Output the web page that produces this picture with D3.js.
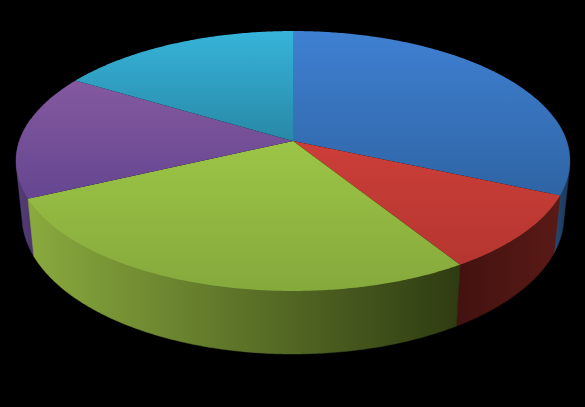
<!DOCTYPE html>
<html>
<head>
<meta charset="utf-8">
<script src="https://cdn.jsdelivr.net/npm/d3@7"></script>
<style>
  html, body { margin: 0; padding: 0; background: #000; }
  svg { display: block; }
</style>
</head>
<body>
<div id="chart"></div>
<script>
// ========== DATA ==========
const categories = ["Blue", "Red", "Green", "Purple", "Teal"];
const values = [31.6, 9.5, 26.9, 15.6, 16.4];

// top face gradient, far edge to near edge
const topColors = [
  ["#3f80d2", "#2e64a4"],
  ["#cc3e39", "#b5362f"],
  ["#9cc546", "#86a93c"],
  ["#83599f", "#654690"],
  ["#36b4da", "#2888a6"]
];
// side wall gradient, left to right
const sideColors = [
  ["#27507f", "#1a3554"],
  ["#421210", "#5a1a16"],
  ["#8aaa3e", "#2e3b11"],
  ["#553c78", "#4a3469"],
  ["#000000", "#000000"]
];

// ========== GEOMETRY ==========
const width = 585, height = 407;
const apex = { x: 293, y: 141 };
const tilt = 0.1538;      // perspective of the pie plane
const scaleU = d3.scaleLinear().domain([-1, 1]).range([apex.x - 273.7, apex.x + 273.7]);
const scaleV = d3.scaleLinear().domain([-1, 1]).range([apex.y + 126.9, apex.y - 126.9]);
const bottomX = d3.scaleLinear().domain([0, width]).range([apex.x - 0.978 * apex.x, apex.x + 0.978 * (width - apex.x)]);
const bottomY = d3.scaleLinear().domain([apex.y, apex.y + 150]).range([195, 354]);

// project an angle (clockwise from top) and radius on to the tilted plane
function project(angle, r = 1) {
  const u = r * Math.sin(angle), v = r * Math.cos(angle);
  const w = 1 + tilt * v;
  return [scaleU(u / w), scaleV(v / w)];
}

function rimPoints(a0, a1) {
  const n = Math.max(2, Math.ceil((a1 - a0) / 0.01));
  return d3.range(n + 1).map(i => project(a0 + (a1 - a0) * i / n));
}

// ========== DRAWING ==========
const svg = d3.select("#chart").append("svg")
  .attr("width", width)
  .attr("height", height)
  .attr("viewBox", `0 0 ${width} ${height}`)
  .style("background", "#000");

const pie = d3.pie().sort(null)(values);
const line = d3.line();
const defs = svg.append("defs");

function addGradient(id, colors, horizontal) {
  const g = defs.append("linearGradient").attr("id", id)
    .attr("x1", 0).attr("y1", 0)
    .attr("x2", horizontal ? 1 : 0).attr("y2", horizontal ? 0 : 1);
  g.append("stop").attr("offset", "0%").attr("stop-color", colors[0]);
  g.append("stop").attr("offset", "100%").attr("stop-color", colors[1]);
}

categories.forEach((c, i) => {
  addGradient(`top-${i}`, topColors[i], false);
  addGradient(`side-${i}`, sideColors[i], true);
});

// side walls go first, the top faces cover whatever sits behind them
const wallMin = 80 * Math.PI / 180, wallMax = 280 * Math.PI / 180;
const walls = svg.append("g").attr("class", "walls");
const wallShapes = [];
pie.forEach((d, i) => {
  const a0 = Math.max(d.startAngle, wallMin), a1 = Math.min(d.endAngle, wallMax);
  if (a1 <= a0) return;
  const upper = rimPoints(a0, a1);
  const lower = upper.map(p => [bottomX(p[0]), bottomY(p[1])]);
  // hull closes the notch between the two rims at the silhouette
  wallShapes.push({ i, points: d3.polygonHull(upper.concat(lower)) });
});

// nearest wall on top
wallShapes.sort((a, b) => d3.max(a.points, p => p[1]) - d3.max(b.points, p => p[1]));
wallShapes.forEach(w => {
  walls.append("path")
    .attr("d", line(w.points) + "Z")
    .attr("fill", `url(#side-${w.i})`)
    .attr("stroke", `url(#side-${w.i})`)
    .attr("stroke-width", 0.5);
});

const faces = svg.append("g").attr("class", "faces");
pie.forEach((d, i) => {
  const pts = [[apex.x, apex.y]].concat(rimPoints(d.startAngle, d.endAngle));
  faces.append("path")
    .attr("d", line(pts) + "Z")
    .attr("fill", `url(#top-${i})`);
});
</script>
</body>
</html>
